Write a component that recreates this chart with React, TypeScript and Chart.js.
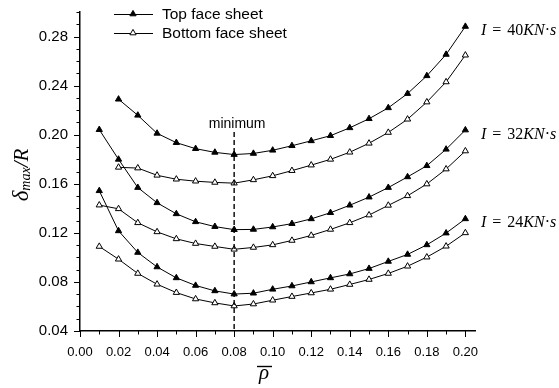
import { useEffect, useRef } from 'react';
import { Chart, registerables } from 'chart.js';

Chart.register(...registerables);

// x values: relative density rho-bar
const rhoValues = [0.01, 0.02, 0.03, 0.04, 0.05, 0.06, 0.07, 0.08, 0.09, 0.1, 0.11, 0.12, 0.13, 0.14, 0.15, 0.16, 0.17, 0.18, 0.19, 0.2];

// I = 40 KN·s
const top40 = [null, 0.2289, 0.2158, 0.2011, 0.1935, 0.1886, 0.1856, 0.1838, 0.1847, 0.1873, 0.191, 0.195, 0.1992, 0.2056, 0.213, 0.2219, 0.2335, 0.248, 0.2654, 0.2882];
const bottom40 = [null, 0.1734, 0.1728, 0.1669, 0.1637, 0.1621, 0.1611, 0.1605, 0.1632, 0.1665, 0.1707, 0.1752, 0.1799, 0.1857, 0.193, 0.2018, 0.2126, 0.2266, 0.243, 0.2648];
// I = 32 KN·s
const top32 = [0.2041, 0.1799, 0.1569, 0.1445, 0.1355, 0.129, 0.1251, 0.1226, 0.1228, 0.1248, 0.1275, 0.1314, 0.1364, 0.1425, 0.1491, 0.1569, 0.1656, 0.1747, 0.1881, 0.2038];
const bottom32 = [0.1426, 0.1396, 0.1282, 0.1208, 0.1151, 0.1113, 0.1089, 0.1066, 0.1081, 0.1102, 0.1138, 0.1179, 0.1228, 0.1282, 0.1345, 0.1424, 0.1502, 0.1598, 0.172, 0.1867];
// I = 24 KN·s
const top24 = [0.1543, 0.1216, 0.104, 0.0922, 0.0833, 0.0771, 0.0727, 0.0701, 0.0708, 0.074, 0.0767, 0.08, 0.0833, 0.0865, 0.0909, 0.0967, 0.1024, 0.1102, 0.1198, 0.1314];
const bottom24 = [0.1089, 0.0985, 0.0869, 0.0781, 0.0713, 0.0661, 0.0629, 0.0604, 0.062, 0.0651, 0.0681, 0.071, 0.074, 0.0779, 0.082, 0.0869, 0.0928, 0.1002, 0.1091, 0.12];

const legendLabels = ['Top face sheet', 'Bottom face sheet'];
const impulseLabels = ['40', '32', '24'];
const minimumRho = 0.08;
const minimumLabel = 'minimum';

const xMin = 0;
const xMax = 0.205;
const yMin = 0.04;
const yMax = 0.3;

const SANS = '"Liberation Sans", Arial, sans-serif';
const SERIF = '"Liberation Serif", "Times New Roman", serif';

type Seg = { t: string; f: string; gap?: number };

function drawSegs(ctx: CanvasRenderingContext2D, x: number, y: number, segs: Seg[]) {
  let cx = x;
  for (const s of segs) {
    cx += s.gap || 0;
    ctx.font = s.f;
    ctx.fillText(s.t, cx, y);
    cx += ctx.measureText(s.t).width;
  }
  return cx;
}

function segsWidth(ctx: CanvasRenderingContext2D, segs: Seg[]) {
  let w = 0;
  for (const s of segs) {
    w += s.gap || 0;
    ctx.font = s.f;
    w += ctx.measureText(s.t).width;
  }
  return w;
}

const decorPlugin = {
  id: 'decor',
  afterDatasetsDraw(chart: any) {
    const { ctx, chartArea, scales } = chart;
    const xs = scales.x;
    ctx.save();
    // dashed "minimum" line
    const xm = xs.getPixelForValue(minimumRho);
    ctx.strokeStyle = '#000';
    ctx.lineWidth = 1.4;
    ctx.setLineDash([5, 3]);
    ctx.beginPath();
    ctx.moveTo(xm, 132);
    ctx.lineTo(xm, chartArea.bottom);
    ctx.stroke();
    ctx.setLineDash([]);
    ctx.fillStyle = '#000';
    ctx.font = '14px ' + SANS;
    ctx.textAlign = 'center';
    ctx.textBaseline = 'alphabetic';
    ctx.fillText(minimumLabel, xm + 3, 127.5);
    ctx.restore();
  },
  afterDraw(chart: any) {
    const { ctx, chartArea, scales } = chart;
    const xs = scales.x;
    const ys = scales.y;
    ctx.save();
    ctx.strokeStyle = '#000';
    ctx.fillStyle = '#000';
    ctx.lineWidth = 1;
    // tick marks (major + minor)
    for (const t of ys.ticks) {
      const p = Math.round(ys.getPixelForValue(t.value)) + 0.5;
      const major = Math.round(t.value * 100) % 4 === 0;
      const len = major ? 6 : 3.5;
      ctx.beginPath();
      ctx.moveTo(chartArea.left - len, p);
      ctx.lineTo(chartArea.left, p);
      ctx.stroke();
    }
    for (const t of xs.ticks) {
      const p = Math.round(xs.getPixelForValue(t.value)) + 0.5;
      const major = Math.round(t.value * 100) % 2 === 0;
      const len = major ? 6 : 3.5;
      ctx.beginPath();
      ctx.moveTo(p, chartArea.bottom);
      ctx.lineTo(p, chartArea.bottom + len);
      ctx.stroke();
    }

    // legend
    const legendY = [14, 33];
    legendLabels.forEach((lab, i) => {
      const y = legendY[i];
      ctx.beginPath();
      ctx.moveTo(114, y + 0.5);
      ctx.lineTo(153, y + 0.5);
      ctx.stroke();
      const r = 3.6;
      const side = (r * 3) / Math.sqrt(3);
      const h = (side * Math.sqrt(3)) / 2;
      ctx.beginPath();
      ctx.moveTo(133 - side / 2, y + h / 3);
      ctx.lineTo(133 + side / 2, y + h / 3);
      ctx.lineTo(133, y - (2 * h) / 3);
      ctx.closePath();
      ctx.fillStyle = i === 0 ? '#000' : '#fff';
      ctx.fill();
      ctx.stroke();
      ctx.fillStyle = '#000';
      ctx.font = '15.5px ' + SANS;
      ctx.textAlign = 'left';
      ctx.textBaseline = 'middle';
      ctx.fillText(lab, 162, y + 0.5);
    });

    // impulse annotations
    ctx.textAlign = 'left';
    ctx.textBaseline = 'alphabetic';
    const tops = [top40, top32, top24];
    impulseLabels.forEach((val, i) => {
      const arr = tops[i];
      const yp = ys.getPixelForValue(arr[arr.length - 1] as number) + 8.5;
      const it = 'italic 16px ' + SERIF;
      const rm = '16px ' + SERIF;
      drawSegs(ctx, chartArea.right + 6, yp, [
        { t: 'I', f: it },
        { t: '=', f: rm, gap: 6 },
        { t: val, f: rm, gap: 6 },
        { t: 'KN', f: it },
        { t: '·', f: rm },
        { t: 's', f: it },
      ]);
    });

    // y-axis title: δ_max / R
    const ySegs: Seg[] = [
      { t: 'δ', f: 'italic 23px ' + SERIF },
      { t: 'max', f: 'italic 14px ' + SERIF },
      { t: '/R', f: 'italic 21px ' + SERIF },
    ];
    ctx.save();
    const cy = 175;
    ctx.translate(28, cy);
    ctx.rotate(-Math.PI / 2);
    const w = segsWidth(ctx, ySegs);
    let cx = -w / 2;
    ctx.font = ySegs[0].f;
    ctx.fillText(ySegs[0].t, cx, 0);
    cx += ctx.measureText(ySegs[0].t).width;
    ctx.font = ySegs[1].f;
    ctx.fillText(ySegs[1].t, cx, 2);
    cx += ctx.measureText(ySegs[1].t).width;
    ctx.font = ySegs[2].f;
    ctx.fillText(ySegs[2].t, cx, 0);
    ctx.restore();

    // x-axis title: rho with overbar
    ctx.font = 'italic 21px ' + SERIF;
    ctx.textAlign = 'center';
    const rx = 264;
    ctx.fillText('ρ', rx, 379);
    ctx.lineWidth = 1.4;
    ctx.beginPath();
    ctx.moveTo(rx - 7, 366.5);
    ctx.lineTo(rx + 8, 366.5);
    ctx.stroke();
    ctx.restore();
  },
};

function series(label: string, values: (number | null)[], filled: boolean) {
  const data = rhoValues
    .map((x, i) => ({ x, y: values[i] }))
    .filter((p) => p.y !== null) as { x: number; y: number }[];
  return {
    label,
    data,
    borderColor: '#000',
    borderWidth: 1,
    backgroundColor: filled ? '#000' : '#fff',
    pointStyle: 'triangle' as const,
    pointRadius: 3.6,
    pointBorderWidth: 1,
    pointBorderColor: '#000',
    pointBackgroundColor: filled ? '#000' : '#fff',
    showLine: true,
    fill: false,
    tension: 0,
  };
}

export default function App() {
  const ref = useRef<HTMLCanvasElement>(null);
  useEffect(() => {
    if (!ref.current) return;
    const chart = new Chart(ref.current, {
      type: 'scatter',
      data: {
        datasets: [
          series('Top I=40', top40, true),
          series('Bottom I=40', bottom40, false),
          series('Top I=32', top32, true),
          series('Bottom I=32', bottom32, false),
          series('Top I=24', top24, true),
          series('Bottom I=24', bottom24, false),
        ],
      },
      options: {
        responsive: false,
        animation: false,
        layout: { padding: { top: 12, right: 84, left: 0, bottom: 0 } },
        plugins: { legend: { display: false }, tooltip: { enabled: false } },
        scales: {
          x: {
            type: 'linear',
            min: xMin,
            max: xMax,
            afterFit: (s: any) => {
              s.height = 57;
              s.paddingLeft = 0;
              s.paddingRight = 0;
              s.paddingTop = 0;
              s.paddingBottom = 0;
            },
            grid: { display: false, drawTicks: false },
            border: { display: true, color: '#000', width: 1.5 },
            ticks: {
              stepSize: 0.01,
              includeBounds: false,
              autoSkip: false,
              maxRotation: 0,
              minRotation: 0,
              padding: 14,
              color: '#000',
              font: { family: SANS, size: 13 },
              callback: (v: any) => (Math.round(Number(v) * 100) % 2 === 0 ? Number(v).toFixed(2) : ''),
            },
          },
          y: {
            type: 'linear',
            min: yMin,
            max: yMax,
            afterFit: (s: any) => {
              s.width = 80;
              s.paddingLeft = 0;
              s.paddingRight = 0;
              s.paddingTop = 0;
              s.paddingBottom = 0;
            },
            grid: { display: false, drawTicks: false },
            border: { display: true, color: '#000', width: 1.5 },
            ticks: {
              stepSize: 0.01,
              includeBounds: false,
              autoSkip: false,
              padding: 12,
              color: '#000',
              font: { family: SANS, size: 15 },
              callback: (v: any) => (Math.round(Number(v) * 100) % 4 === 0 ? Number(v).toFixed(2) : ''),
            },
          },
        },
      },
      plugins: [decorPlugin],
    });
    return () => chart.destroy();
  }, []);
  return (
    <div style={{ position: 'fixed', left: 0, top: 0, width: 559, height: 388, background: '#fff' }}>
      <canvas ref={ref} width={559} height={388} style={{ display: 'block' }} />
    </div>
  );
}
